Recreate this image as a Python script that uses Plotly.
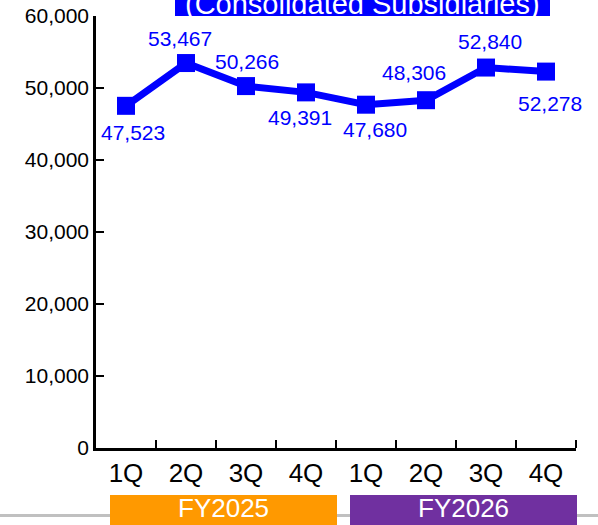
import plotly.graph_objects as go

# Quarterly figures (Consolidated Subsidiaries)
quarters = ["1Q", "2Q", "3Q", "4Q", "1Q", "2Q", "3Q", "4Q"]
values = [47523, 53467, 50266, 49391, 47680, 48306, 52840, 52278]
fiscal_years = ["FY2025", "FY2026"]
fy_colors = ["#FF9900", "#7030A0"]
y_ticks = [0, 10000, 20000, 30000, 40000, 50000, 60000]

# label offsets (px) relative to each point
label_dx = [7, -6, 1, -6, 9, -12, 4, 4]
label_dy = [-27, 25, 25, -25, -25, 28, 26, -32]

W, H = 598, 525
L, R, T, B = 96, 22, 16, 77
PW, PH = W - L - R, H - T - B


def px(xp):
    return (xp - L) / PW


def py(yp):
    return (H - B - yp) / PH


FONT = "Liberation Sans, Arial, sans-serif"
BLUE = "#0000FF"

x = list(range(len(values)))

fig = go.Figure()
fig.add_trace(go.Scatter(
    x=x, y=values, mode="lines+markers",
    line=dict(color=BLUE, width=7),
    marker=dict(symbol="square", size=18, color=BLUE),
    hoverinfo="skip", showlegend=False,
))

annotations = []
for i, v in enumerate(values):
    annotations.append(dict(
        x=i, y=v, xref="x", yref="y", text=f"{v:,}", showarrow=False,
        xshift=label_dx[i], yshift=label_dy[i],
        font=dict(family=FONT, size=21, color=BLUE),
        xanchor="center", yanchor="middle",
    ))

shapes = []
# light rule along the bottom edge
shapes.append(dict(type="line", xref="paper", yref="paper",
                   x0=px(0), x1=px(W), y0=py(515.5), y1=py(515.5),
                   line=dict(color="#C0C0C0", width=3), layer="below"))
# fiscal year bands
bands = [(110, 337), (350, 577)]
for (x0, x1), name, col in zip(bands, fiscal_years, fy_colors):
    shapes.append(dict(type="rect", xref="paper", yref="paper",
                       x0=px(x0), x1=px(x1), y0=py(530), y1=py(495),
                       fillcolor=col, line=dict(width=0), layer="above"))
    annotations.append(dict(
        x=px((x0 + x1) / 2), y=py(508), xref="paper", yref="paper",
        text=name, showarrow=False, xanchor="center", yanchor="middle",
        font=dict(family=FONT, size=26, color="white"),
    ))

# title banner
shapes.append(dict(type="rect", xref="paper", yref="paper",
                   x0=px(175), x1=px(550), y0=py(16), y1=py(-20),
                   fillcolor=BLUE, line=dict(width=0), layer="above"))
annotations.append(dict(
    x=px(362), y=py(4), xref="paper", yref="paper",
    text="(Consolidated Subsidiaries)", showarrow=False,
    xanchor="center", yanchor="middle",
    font=dict(family=FONT, size=29, color="white"),
))

fig.update_layout(
    width=W, height=H,
    margin=dict(l=L, r=R, t=T, b=B, pad=0, autoexpand=False),
    paper_bgcolor="white", plot_bgcolor="white",
    font=dict(family=FONT, color="black"),
    shapes=shapes, annotations=annotations,
    xaxis=dict(
        range=[-0.5, len(values) - 0.5], automargin=False,
        tickmode="array", tickvals=x, ticktext=quarters,
        ticks="", showgrid=False, zeroline=False,
        showline=True, linecolor="black", linewidth=2.5,
        tickfont=dict(family=FONT, size=26, color="black"),
        minor=dict(tickmode="array",
                   tickvals=[i + 0.5 for i in x],
                   ticks="inside", ticklen=8, tickwidth=2, tickcolor="black",
                   showgrid=False),
        fixedrange=True,
    ),
    yaxis=dict(
        range=[0, 60000], automargin=False,
        tickmode="array", tickvals=y_ticks,
        tickformat=",", ticks="inside", ticklen=8, tickwidth=2,
        tickcolor="black",
        showgrid=False, zeroline=False,
        showline=True, linecolor="black", linewidth=2.5,
        tickfont=dict(family=FONT, size=21, color="black"),
        fixedrange=True,
    ),
)

fig.write_html("out.html", config={"displayModeBar": False})
